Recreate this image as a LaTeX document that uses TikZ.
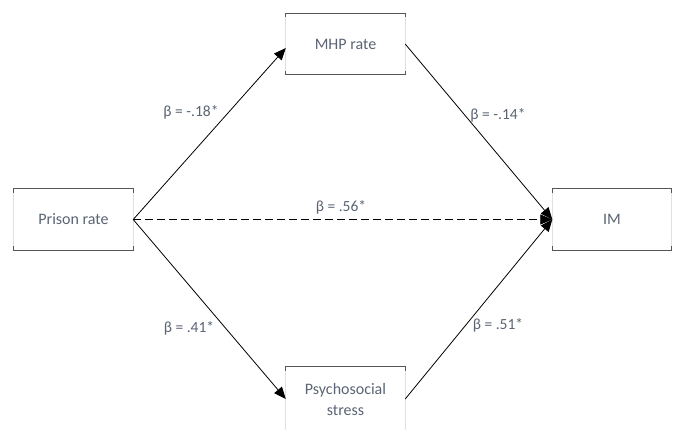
\documentclass[tikz,border=0pt]{standalone}
\usepackage{fontspec}
\setmainfont{Carlito}
\usetikzlibrary{arrows.meta}
\definecolor{txt}{HTML}{5B6473}
\definecolor{sidegray}{HTML}{E0E0E0}
\definecolor{edgegray}{HTML}{555555}
\tikzset{
  box/.style={minimum width=119pt, minimum height=61pt, inner sep=0pt, text=txt, font=\fontsize{16}{19.5}\selectfont, align=center},
  lbl/.style={text=txt, font=\fontsize{15.5}{18}\selectfont, inner sep=1pt},
  conn/.style={draw=black, line width=0.8pt, -{Triangle[length=12pt,width=10pt]}},
  sideline/.style={draw=sidegray, line width=0.8pt},
  edgeline/.style={draw=edgegray, line width=0.9pt}
}
\newcommand{\bracketbox}[1]{%
  \draw[sideline] (#1.north west) -- (#1.south west);
  \draw[sideline] (#1.north east) -- (#1.south east);
  \draw[edgeline] ([yshift=-4pt]#1.north west) -- (#1.north west) -- (#1.north east) -- ([yshift=-4pt]#1.north east);
  \draw[edgeline] ([yshift=4pt]#1.south west) -- (#1.south west) -- (#1.south east) -- ([yshift=4pt]#1.south east);
}
\begin{document}
\begin{tikzpicture}[x=1pt,y=-1pt]
\useasboundingbox (0,0) rectangle (678,429);
\clip (0,0) rectangle (678,429);
\node[box] (prison) at (73.5,219.5) {Prison rate};
\node[box] (mhp) at (345.5,44) {MHP rate};
\node[box] (im) at (612,219.5) {IM};
\node[box, minimum height=74pt] (psy) at (345.5,404) {};
\node[text=txt, font=\fontsize{16}{21}\selectfont, align=center] (psytext) at (345.5,399) {Psychosocial\\stress};
\bracketbox{prison}
\bracketbox{mhp}
\bracketbox{im}
\bracketbox{psy}
\draw[conn] (prison.east) -- ([yshift=-4pt]mhp.west);
\draw[conn] (mhp.east) -- (im.west);
\draw[conn] (prison.east) -- ([yshift=5pt]psy.west);
\draw[conn] ([yshift=5pt]psy.east) -- (im.west);
\draw[conn, dash pattern=on 8pt off 4pt] (prison.east) -- (im.west);
\node[lbl] (l1) at (191,112) {β = -.18*};
\node[lbl] (l2) at (498,115) {β = -.14*};
\node[lbl] (l3) at (341,207) {β = .56*};
\node[lbl] (l4) at (189,328) {β = .41*};
\node[lbl] (l5) at (498,325) {β = .51*};
\end{tikzpicture}
\end{document}
